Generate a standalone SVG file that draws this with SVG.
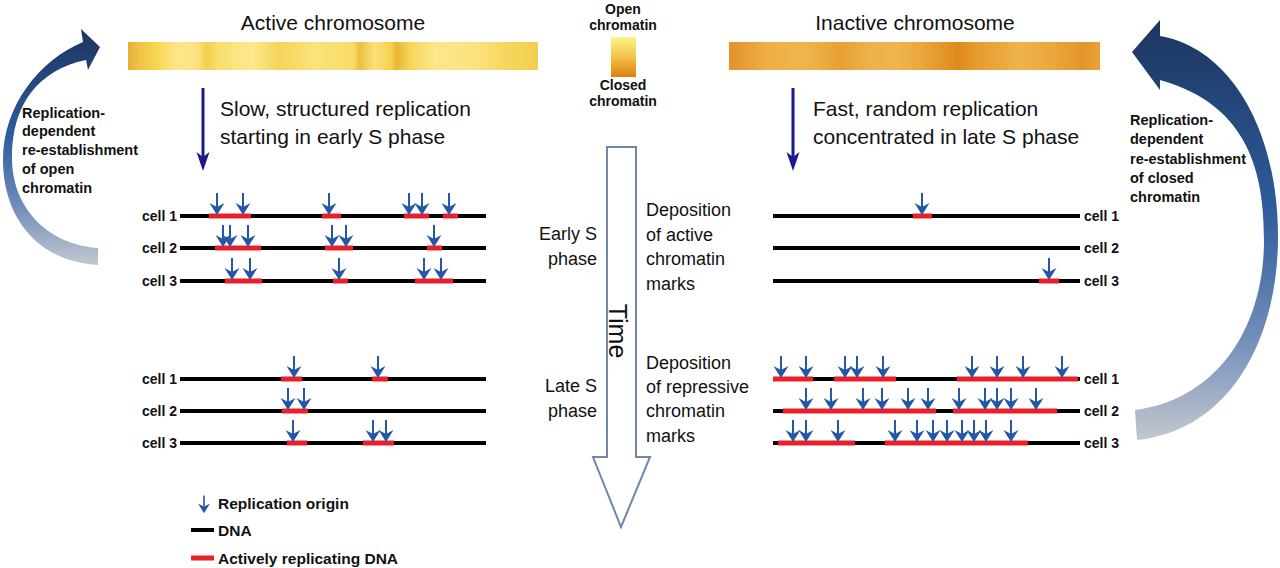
<svg xmlns="http://www.w3.org/2000/svg" width="1280" height="568" viewBox="0 0 1280 568">
<style>
.t{font-family:"Liberation Sans",Arial,sans-serif;fill:#111}
.big{font-size:21px}
.mid{font-size:18px}
.b{font-weight:bold}
.side{font-size:14.5px;font-weight:bold}
.cl{font-size:14px;font-weight:bold}
.leg{font-size:15.5px;font-weight:bold}
.dna{stroke:#000;stroke-width:4}
.rep{stroke:#e8202a;stroke-width:5}
</style>
<defs>
<linearGradient id="actG" x1="0" x2="1" y1="0" y2="0">
<stop offset="0" stop-color="#e6b03a"/><stop offset="0.03" stop-color="#f0c444"/><stop offset="0.07" stop-color="#f7d652"/>
<stop offset="0.12" stop-color="#fde68a"/><stop offset="0.17" stop-color="#fbe280"/><stop offset="0.19" stop-color="#f3cf4a"/>
<stop offset="0.22" stop-color="#f8de6e"/><stop offset="0.30" stop-color="#fde88e"/><stop offset="0.37" stop-color="#f6d45a"/>
<stop offset="0.45" stop-color="#fbe27c"/><stop offset="0.55" stop-color="#f8dc68"/><stop offset="0.565" stop-color="#eebf3e"/>
<stop offset="0.6" stop-color="#fae07a"/><stop offset="0.64" stop-color="#f6d352"/><stop offset="0.655" stop-color="#e9b632"/>
<stop offset="0.69" stop-color="#f7d65c"/><stop offset="0.75" stop-color="#fde68c"/><stop offset="0.85" stop-color="#fbe27e"/>
<stop offset="0.93" stop-color="#f6d55c"/><stop offset="1" stop-color="#f2cf4c"/>
</linearGradient>
<linearGradient id="inaG" x1="0" x2="1" y1="0" y2="0">
<stop offset="0" stop-color="#e2922a"/><stop offset="0.1" stop-color="#eeae46"/><stop offset="0.2" stop-color="#f0b64e"/>
<stop offset="0.3" stop-color="#e7a034"/><stop offset="0.38" stop-color="#eeb14c"/><stop offset="0.45" stop-color="#f0b54e"/>
<stop offset="0.52" stop-color="#e9a63c"/><stop offset="0.62" stop-color="#df8a1a"/><stop offset="0.66" stop-color="#e59a2c"/>
<stop offset="0.78" stop-color="#efb24c"/><stop offset="0.88" stop-color="#eaa63c"/><stop offset="0.95" stop-color="#e39628"/>
<stop offset="1" stop-color="#e9a23a"/>
</linearGradient>
<linearGradient id="keyG" x1="0" x2="0" y1="0" y2="1">
<stop offset="0" stop-color="#fff48a"/><stop offset="0.5" stop-color="#f2c24a"/><stop offset="1" stop-color="#e0800e"/>
</linearGradient>
<linearGradient id="arcG" x1="0" x2="0" y1="0" y2="1">
<stop offset="0" stop-color="#1c355f"/><stop offset="0.45" stop-color="#2e5c9c"/><stop offset="0.75" stop-color="#6f8db8"/><stop offset="1" stop-color="#c3c8cf"/>
</linearGradient>
<g id="o"><path d="M0,-23V-9" stroke="#2357a8" stroke-width="2"/><path d="M0,-1L-7.5,-13L0,-9L7.5,-13Z" fill="#2357a8"/></g>
</defs>
<rect width="1280" height="568" fill="#fff"/>

<g id="connectors">
<path d="M203,88V160" stroke="#1a1a8a" stroke-width="3" fill="none"/>
<path d="M203,171L196.5,152L203,157L209.5,152Z" fill="#1a1a8a"/>
<path d="M793,88V160" stroke="#1a1a8a" stroke-width="3" fill="none"/>
<path d="M793,171L786.5,152L793,157L799.5,152Z" fill="#1a1a8a"/>
<path d="M98,265C40,262 3,220 3,160C3,105 40,60 83,42L81,29L100,47L88,70L86,60C38,70 11,105 12,160C13,210 50,245 98,248Z" fill="url(#arcG)"/>
<path d="M1160,36C1230,48 1279,130 1278,240C1277,340 1230,430 1137,440L1135,410C1215,400 1264,330 1264,240C1264,175 1250,105 1160,80L1160,90L1132,52L1160,20Z" fill="url(#arcG)"/>
</g>

<g id="active-chromosome">
<text class="t big" x="333" y="30" text-anchor="middle">Active chromosome</text>
<rect x="128" y="42" width="410" height="28" fill="url(#actG)"/>
</g>
<g id="inactive-chromosome">
<text class="t big" x="915" y="30" text-anchor="middle">Inactive chromosome</text>
<rect x="729" y="42" width="371" height="28" fill="url(#inaG)"/>
</g>
<g id="chromatin-key">
<text class="t b" font-size="14" x="623" y="14" text-anchor="middle">Open</text>
<text class="t b" font-size="14" x="623" y="30" text-anchor="middle">chromatin</text>
<rect x="611" y="37" width="25" height="40" fill="url(#keyG)"/>
<text class="t b" font-size="14" x="623" y="90" text-anchor="middle">Closed</text>
<text class="t b" font-size="14" x="623" y="106" text-anchor="middle">chromatin</text>
</g>
<g id="active-desc">
<text class="t big" x="220" y="116">Slow, structured replication</text>
<text class="t big" x="220" y="144">starting in early S phase</text>
</g>
<g id="inactive-desc">
<text class="t big" x="813" y="116">Fast, random replication</text>
<text class="t big" x="813" y="144">concentrated in late S phase</text>
</g>
<g id="open-label">
<text class="t side" x="22" y="118">Replication-</text>
<text class="t side" x="22" y="136">dependent</text>
<text class="t side" x="22" y="155">re-establishment</text>
<text class="t side" x="22" y="174">of open</text>
<text class="t side" x="22" y="193">chromatin</text>
</g>
<g id="closed-label">
<text class="t side" x="1130" y="125">Replication-</text>
<text class="t side" x="1130" y="144">dependent</text>
<text class="t side" x="1130" y="164">re-establishment</text>
<text class="t side" x="1130" y="183">of closed</text>
<text class="t side" x="1130" y="202">chromatin</text>
</g>

<g id="time">
<path d="M607,147H636V457H650L621,527L593,457H607Z" fill="#fff" stroke="#7386a8" stroke-width="2"/>
<text class="t" font-size="25" transform="translate(609,331) rotate(90)" text-anchor="middle">Time</text>
</g>
<g id="phase-labels">
<text class="t mid" x="597" y="240" text-anchor="end">Early S</text>
<text class="t mid" x="597" y="265" text-anchor="end">phase</text>
<text class="t mid" x="597" y="392" text-anchor="end">Late S</text>
<text class="t mid" x="597" y="417" text-anchor="end">phase</text>
</g>
<g id="deposition-labels">
<text class="t mid" x="646" y="216">Deposition</text>
<text class="t mid" x="646" y="241">of active</text>
<text class="t mid" x="646" y="265">chromatin</text>
<text class="t mid" x="646" y="290">marks</text>
<text class="t mid" x="646" y="369">Deposition</text>
<text class="t mid" x="646" y="393">of repressive</text>
<text class="t mid" x="646" y="417">chromatin</text>
<text class="t mid" x="646" y="442">marks</text>
</g>

<g id="active-early">
<text class="t cl" x="177" y="221" text-anchor="end">cell 1</text>
<text class="t cl" x="177" y="253" text-anchor="end">cell 2</text>
<text class="t cl" x="177" y="286" text-anchor="end">cell 3</text>
<path class="dna" d="M180,216H486M180,248H486M180,281H486"/>
<path class="rep" d="M209,216H251M322,216H341M404,216H429M443,216H458M215,248H261M325,248H353M427,248H442M225,281H262M333,281H348M415,281H453"/>
<use href="#o" x="217" y="216"/><use href="#o" x="243" y="216"/><use href="#o" x="329" y="216"/><use href="#o" x="409" y="216"/><use href="#o" x="422" y="216"/><use href="#o" x="449" y="216"/>
<use href="#o" x="223" y="248"/><use href="#o" x="230" y="248"/><use href="#o" x="248" y="248"/><use href="#o" x="332" y="248"/><use href="#o" x="346" y="248"/><use href="#o" x="434" y="248"/>
<use href="#o" x="232" y="281"/><use href="#o" x="250" y="281"/><use href="#o" x="339" y="281"/><use href="#o" x="424" y="281"/><use href="#o" x="441" y="281"/>
</g>
<g id="active-late">
<text class="t cl" x="177" y="384" text-anchor="end">cell 1</text>
<text class="t cl" x="177" y="416" text-anchor="end">cell 2</text>
<text class="t cl" x="177" y="448" text-anchor="end">cell 3</text>
<path class="dna" d="M180,379H486M180,411H486M180,443H486"/>
<path class="rep" d="M281,379H302M372,379H388M282,411H308M287,443H307M363,443H394"/>
<use href="#o" x="294" y="379"/><use href="#o" x="378" y="379"/>
<use href="#o" x="288" y="411"/><use href="#o" x="304" y="411"/>
<use href="#o" x="293" y="443"/><use href="#o" x="373" y="443"/><use href="#o" x="386" y="443"/>
</g>
<g id="inactive-early">
<text class="t cl" x="1084" y="221">cell 1</text>
<text class="t cl" x="1084" y="253">cell 2</text>
<text class="t cl" x="1084" y="286">cell 3</text>
<path class="dna" d="M773,216H1080M773,248H1080M773,281H1080"/>
<path class="rep" d="M913,216H932M1039,281H1059"/>
<use href="#o" x="922" y="216"/><use href="#o" x="1049" y="281"/>
</g>
<g id="inactive-late">
<text class="t cl" x="1084" y="384">cell 1</text>
<text class="t cl" x="1084" y="416">cell 2</text>
<text class="t cl" x="1084" y="448">cell 3</text>
<path class="dna" d="M773,379H1080M773,411H1080M773,443H1080"/>
<path class="rep" d="M773,379H813M834,379H896M957,379H1078M783,411H936M953,411H1057M778,443H855M885,443H1028"/>
<use href="#o" x="781" y="379"/><use href="#o" x="806" y="379"/><use href="#o" x="845" y="379"/><use href="#o" x="857" y="379"/><use href="#o" x="883" y="379"/><use href="#o" x="972" y="379"/><use href="#o" x="997" y="379"/><use href="#o" x="1023" y="379"/><use href="#o" x="1062" y="379"/>
<use href="#o" x="806" y="411"/><use href="#o" x="831" y="411"/><use href="#o" x="863" y="411"/><use href="#o" x="882" y="411"/><use href="#o" x="908" y="411"/><use href="#o" x="928" y="411"/><use href="#o" x="959" y="411"/><use href="#o" x="985" y="411"/><use href="#o" x="997" y="411"/><use href="#o" x="1011" y="411"/><use href="#o" x="1036" y="411"/>
<use href="#o" x="793" y="443"/><use href="#o" x="806" y="443"/><use href="#o" x="838" y="443"/><use href="#o" x="895" y="443"/><use href="#o" x="917" y="443"/><use href="#o" x="933" y="443"/><use href="#o" x="947" y="443"/><use href="#o" x="962" y="443"/><use href="#o" x="974" y="443"/><use href="#o" x="986" y="443"/><use href="#o" x="1011" y="443"/>
</g>

<g id="legend">
<use href="#o" transform="translate(204,514) scale(0.8)"/>
<text class="t leg" x="218" y="509">Replication origin</text>
<path class="dna" d="M191,530H214"/>
<text class="t leg" x="218" y="536">DNA</text>
<path class="rep" d="M191,558H214"/>
<text class="t leg" x="218" y="564">Actively replicating DNA</text>
</g>
</svg>
